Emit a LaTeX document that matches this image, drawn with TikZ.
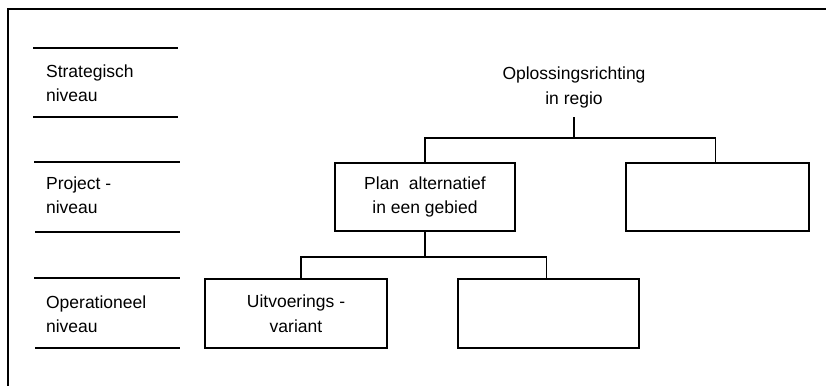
\documentclass[tikz,border=0pt]{standalone}
\usepackage{fontspec}
\setmainfont{Liberation Sans}
\begin{document}
\begin{tikzpicture}[x=1pt,y=-1pt,
  font=\fontsize{17.5}{24.5}\selectfont,
  line width=1.2pt,
  box/.style={draw, minimum height=68pt, align=center, inner sep=0pt},
  lbl/.style={anchor=base west, align=left, inner sep=0pt},
  rule/.style={line width=1.2pt},
  frame/.style={line width=1.4pt}]
\useasboundingbox (0,0) rectangle (826,385);
% outer frame (right and bottom edges lie outside the picture)
\draw[frame] (8,392) -- (8,9) -- (832,9);
% level separators
\draw[rule] (33,48) -- (178,48);
\draw[rule] (33,117) -- (178,117);
\draw[rule] (34,162) -- (180,162);
\draw[rule] (35,232) -- (180,232);
\draw[rule] (34,278) -- (180,278);
\draw[rule] (35,348) -- (180,348);
% level labels (base anchor = baseline of last line)
\node[lbl] (s)  at (45.5,101.5) {Strategisch\\niveau};
\node[lbl] (p)  at (45.5,213.5) {Project -\\niveau};
\node[lbl] (op) at (45.5,332.5) {Operationeel\\niveau};
% tree
\node[anchor=base, align=center, inner sep=0pt, inner ysep=9pt] (o) at (574,104) {Oplossingsrichting\\in regio};
\node[box, minimum width=180pt] (pa) at (425,197) {Plan\ \ alternatief\\in een gebied};
\node[box, minimum width=183pt] (rb) at (717.5,197) {};
\node[box, minimum width=182pt, minimum height=69pt] (uv) at (296,313.5) {Uitvoerings -\\variant};
\node[box, minimum width=181pt, minimum height=69pt] (lb) at (548.5,313.5) {};
\coordinate (j1) at (574,138);
\coordinate (j2) at (425,257);
\draw (o.south) -- (j1);
\draw (pa.north) |- (j1) -| ([xshift=-2pt]rb.north);
\draw (pa.south) -- (j2);
\draw ([xshift=5pt]uv.north) |- (j2) -| ([xshift=-2pt]lb.north);
\end{tikzpicture}
\end{document}
